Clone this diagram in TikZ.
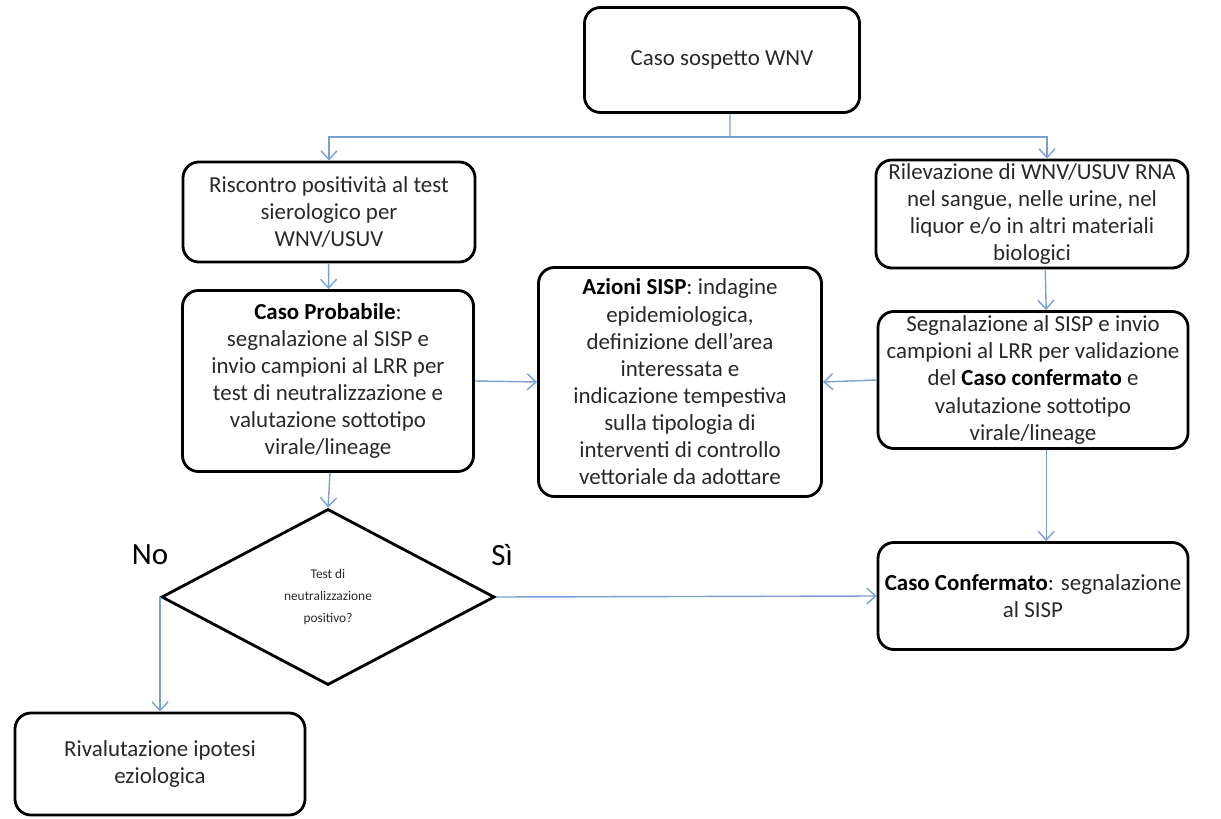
\documentclass[tikz,border=0pt]{standalone}
\usepackage{fontspec}
\setmainfont{Carlito}
\usetikzlibrary{shapes.geometric, positioning, arrows.meta}
\definecolor{arrowblue}{RGB}{120,160,210}
\definecolor{textgray}{RGB}{40,40,40}
\tikzset{
    >={Straight Barb[length=2.2mm,width=4mm]}, % open arrow heads
    box/.style={draw, line width=2pt, rounded corners=0.4cm, align=center, inner sep=0pt, text=textgray, font=\fontsize{16.3}{19.3}\selectfont}, % flow chart box
    decision/.style={diamond, draw, line width=2pt, align=center, inner sep=0pt, text=textgray, font=\fontsize{9.5}{15.5}\selectfont}, % decision node
    answer/.style={font=\fontsize{22}{26}\selectfont}, % No / Si labels
    link/.style={->, draw=arrowblue, line width=1pt}, % blue connector
}

\begin{document}
\begin{tikzpicture}[x=0.025cm, y=-0.025cm]
    \useasboundingbox (0,0) rectangle (1221,819);
    \node[box, minimum width=6.875cm, minimum height=2.625cm] (sospetto) at (722,60) {Caso sospetto WNV};
    \node[box, minimum width=7.3cm, minimum height=2.5cm] (siero) at (329,212) {Riscontro positività al test\\sierologico per\\WNV/USUV};
    \node[box, minimum width=7.8cm, minimum height=2.7cm] (rna) at (1032,214) {Rilevazione di WNV/USUV RNA\\nel sangue, nelle urine, nel\\liquor e/o in altri materiali\\biologici};
    \node[box, minimum width=7.275cm, minimum height=4.525cm] (probabile) at (328,381) {\textbf{\color{black}Caso Probabile}:\\segnalazione al SISP e\\invio campioni al LRR per\\test di neutralizzazione e\\valutazione sottotipo\\virale/lineage};
    \node[box, minimum width=7.075cm, minimum height=5.725cm] (azioni) at (680,382) {\textbf{\color{black}Azioni SISP}: indagine\\epidemiologica,\\definizione dell’area\\interessata e\\indicazione tempestiva\\sulla tipologia di\\interventi di controllo\\vettoriale da adottare};
    \node[box, minimum width=7.75cm, minimum height=3.425cm] (segnalazione) at (1033,380) {Segnalazione al SISP e invio\\campioni al LRR per validazione\\del \textbf{\color{black}Caso confermato} e\\valutazione sottotipo\\virale/lineage};
    \node[decision, minimum width=8.325cm, minimum height=4.4cm] (test) at (328,597) {Test di\\neutralizzazione\\positivo?};
    \node[box, minimum width=7.75cm, minimum height=2.675cm] (confermato) at (1033,596) {\textbf{\color{black}Caso Confermato}: segnalazione\\al SISP};
    \node[box, minimum width=7.25cm, minimum height=2.55cm] (rivalutazione) at (160,764) {Rivalutazione ipotesi\\eziologica};
    \node[answer] (no) at (150,555) {No};
    \node[answer] (si) at (502,555) {Sì};
    \coordinate (fork) at (730,137);

    \draw[link, -] ([xshift=0.2cm]sospetto.south) -- (fork);
    \draw[link] (fork) -| (siero.north);
    \draw[link] (fork) -| ([xshift=0.375cm]rna.north);
    \draw[link] (siero) -- (probabile);
    \draw[link] ([xshift=0.33cm]rna.south) -- ([xshift=0.33cm]segnalazione.north);
    \draw[link] (probabile.east) -- (azioni.west);
    \draw[link] (segnalazione.west) -- (azioni.east);
    \draw[link] ([xshift=0.05cm]probabile.south) -- (test.north);
    \draw[link] ([xshift=0.33cm]segnalazione.south) -- ([xshift=0.33cm]confermato.north);
    \draw[link] (test.east) -- (confermato.west);
    \draw[link] (test.west) -- (test.west |- rivalutazione.north);
\end{tikzpicture}
\end{document}
